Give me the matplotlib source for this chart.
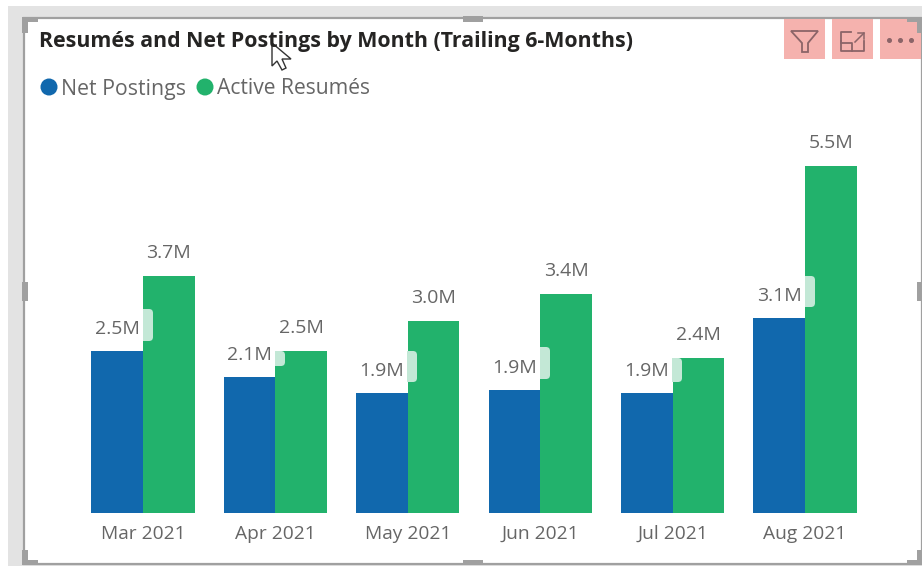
import matplotlib.pyplot as plt
from matplotlib.patches import Rectangle, FancyBboxPatch, Polygon, Circle

plt.rcParams['font.family'] = ['Open Sans', 'DejaVu Sans']

# 数据
months = ['Mar 2021', 'Apr 2021', 'May 2021', 'Jun 2021', 'Jul 2021', 'Aug 2021']
net_postings = [2.57, 2.15, 1.90, 1.95, 1.90, 3.09]
active_resumes = [3.76, 2.57, 3.04, 3.47, 2.46, 5.50]
net_labels = ['2.5M', '2.1M', '1.9M', '1.9M', '1.9M', '3.1M']
active_labels = ['3.7M', '2.5M', '3.0M', '3.4M', '2.4M', '5.5M']
title = 'Resumés and Net Postings by Month (Trailing 6-Months)'

BLUE = '#1168ad'
GREEN = '#22b26c'
TEXT = '#666666'
W, H = 922, 566

fig = plt.figure(figsize=(W / 100, H / 100), dpi=100)

# 外框层，用像素坐标
bg = fig.add_axes([0, 0, 1, 1])
bg.set_xlim(0, W)
bg.set_ylim(H, 0)
bg.axis('off')
bg.add_patch(Rectangle((8, 6), W - 8, H - 6, color='#e3e3e3', lw=0))
bg.add_patch(Rectangle((24, 18), W - 24, H - 20, fc='white', ec='#a0a0a0', lw=1.6))

# 柱状图
ax = fig.add_axes([76.8 / W, (H - 513) / H, 794.4 / W, 393 / H])
ax.patch.set_alpha(0)
ax.set_xlim(-0.5, 5.5)
ax.set_ylim(0, 393 / 63.1)
width = 0.389
x = list(range(len(months)))
ax.bar([i - width / 2 for i in x], net_postings, width, color=BLUE)
ax.bar([i + width / 2 for i in x], active_resumes, width, color=GREEN)
for s in ax.spines.values():
    s.set_visible(False)
ax.set_yticks([])
ax.set_xticks(x, months, fontsize=13.8, color=TEXT)
ax.tick_params(axis='x', length=0, pad=8.5)

for i in x:
    ax.annotate(net_labels[i], (i, net_postings[i]), xytext=(-2.5, 16), textcoords='offset points',
                ha='right', va='center', fontsize=14, color=TEXT)
    ax.annotate(active_labels[i], (i + width / 2, active_resumes[i]), xytext=(0, 16.5),
                textcoords='offset points', ha='center', va='center', fontsize=14, color=TEXT)

# 上层：标题、图例、图标等
fg = fig.add_axes([0, 0, 1, 1])
fg.set_xlim(0, W)
fg.set_ylim(H, 0)
fg.axis('off')
fg.patch.set_alpha(0)

# 标签背景露出的浅色小块
tabs = [(143, 309, 32), (275, 351, 15), (407, 351, 31), (540, 347, 32), (672, 358, 24), (805, 276, 31)]
for tx, ty, th in tabs:
    tab = FancyBboxPatch((tx - 6, ty), 16, th, boxstyle='round,pad=0,rounding_size=4',
                         fc='#c3e8d6', ec='none')
    fg.add_patch(tab)
    tab.set_clip_path(Rectangle((tx, ty), 12, th, transform=fg.transData))

fg.text(39, 42, title, fontsize=15.4, fontweight='bold', color='#252423', ha='left', va='center')
fg.add_patch(Circle((49, 87), 8.5, color=BLUE, lw=0))
fg.text(61, 89, 'Net Postings', fontsize=15.3, color=TEXT, ha='left', va='center')
fg.add_patch(Circle((205, 87), 8.5, color=GREEN, lw=0))
fg.text(217, 89, 'Active Resumés', fontsize=15.2, color=TEXT, ha='left', va='center')

# 右上角图标
for bx in [784, 832, 880]:
    fg.add_patch(Rectangle((bx, 19), 41, 40, fc='#f5b2ae', ec='none'))
ICON = '#8b6468'
fg.add_patch(Polygon([(791, 31), (818, 31), (808, 43), (808, 52), (802, 52), (802, 43)], closed=True,
                     fc='none', ec=ICON, lw=1.3))
fg.plot([841, 841, 864, 864], [41, 51, 51, 41], color=ICON, lw=1.3)
fg.plot([841, 841, 851], [41, 32, 32], color=ICON, lw=1.3)
fg.plot([841, 852, 852], [43, 43, 51], color=ICON, lw=1.3)
fg.plot([855, 864], [42, 33], color=ICON, lw=1.1)
fg.plot([858, 864, 864], [33, 33, 39], color=ICON, lw=1.1)
fg.plot([889, 900, 911], [40, 40, 40], ls='none', marker='o', ms=2.6, color=ICON)

# 选中框的角和手柄
GREY = '#a0a0a0'
corners = [[(22, 17), (38, 17), (38, 22), (28, 22), (28, 33), (22, 33)],
           [(907, 17), (922, 17), (922, 33), (917, 33), (917, 22), (907, 22)],
           [(22, 550), (28, 550), (28, 560), (38, 560), (38, 565), (22, 565)],
           [(917, 550), (922, 550), (922, 565), (907, 565), (907, 560), (917, 560)]]
for c in corners:
    fg.add_patch(Polygon(c, closed=True, fc=GREY, ec='none'))
for hx, hy, hw, hh in [(463, 16, 20, 6), (463, 560, 20, 5), (22, 282, 6, 19), (917, 282, 5, 19)]:
    fg.add_patch(Rectangle((hx, hy), hw, hh, fc=GREY, ec='none'))

# 鼠标指针
cursor = [(272, 43), (272, 66), (277, 61), (282, 70), (286, 68), (282, 59), (291, 59)]
fg.add_patch(Polygon(cursor, closed=True, fc='white', ec='#333333', lw=1))

fig.savefig('out.png', dpi=100)
